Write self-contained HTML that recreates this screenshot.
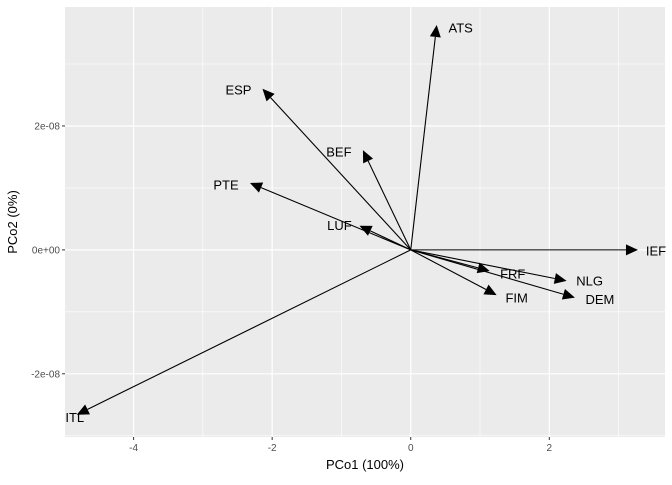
<!DOCTYPE html>
<html><head><meta charset="utf-8"><style>
body{margin:0;background:#fff;font-family:"Liberation Sans",sans-serif}
</style></head><body>
<svg id="c" width="672" height="480" xmlns="http://www.w3.org/2000/svg"></svg>
<script>
const labels=["ATS","ESP","BEF","PTE","LUF","IEF","FRF","NLG","FIM","DEM","ITL"];
const pc1=[0.375,-2.14,-0.69,-2.32,-0.74,3.28,1.14,2.25,1.24,2.37,-4.82];
const pc2=[3.63,2.6,1.61,1.08,0.39,0,-0.34,-0.5,-0.73,-0.77,-2.66];
const xTicks=[-4,-2,0,2];
const xTickLabels=["-4","-2","0","2"];
const yTicks=[2,0,-2];
const yTickLabels=["2e-08","0e+00","-2e-08"];
const labDx=[24,-24,-24,-24,-20,18,23,23,20,25,-2];
const labDy=[3,1,2,2,0,1,3,0,3,2,3];
const L=65,R=665,T=7,B=437;
const xmin=-4.99,xmax=3.67,ymin=-3.02,ymax=3.92;
const X=v=>L+(v-xmin)/(xmax-xmin)*(R-L);
const Y=v=>B-(v-ymin)/(ymax-ymin)*(B-T);
const svg=document.getElementById('c');const NS="http://www.w3.org/2000/svg";
function mk(t,a,p){const e=document.createElementNS(NS,t);for(const k in a)e.setAttribute(k,a[k]);(p||svg).appendChild(e);return e;}
const bg=mk('rect',{x:L,y:T,width:R-L,height:B-T,fill:'#ebebeb'});


for(let v=-5;v<=3;v+=2){const g=mk('line',{x1:X(v),x2:X(v),y1:T,y2:B,stroke:'#fff','stroke-width':0.6});

}
for(let v=-3;v<=3;v+=2){const g=mk('line',{x1:L,x2:R,y1:Y(v),y2:Y(v),stroke:'#fff','stroke-width':0.6});

}
xTicks.forEach((v,i)=>{const g=mk('line',{x1:X(v),x2:X(v),y1:T,y2:B,stroke:'#fff','stroke-width':1.2});


mk('line',{x1:X(v),x2:X(v),y1:B,y2:B+3,stroke:'#333'});
const t=mk('text',{x:X(v),y:B+14,'text-anchor':'middle','font-size':10,fill:'#4d4d4d'});t.textContent=xTickLabels[i];

});
yTicks.forEach((v,i)=>{const g=mk('line',{x1:L,x2:R,y1:Y(v),y2:Y(v),stroke:'#fff','stroke-width':1.2});


mk('line',{x1:L-3,x2:L,y1:Y(v),y2:Y(v),stroke:'#333'});
const t=mk('text',{x:L-5,y:Y(v)+3.5,'text-anchor':'end','font-size':10,fill:'#4d4d4d'});t.textContent=yTickLabels[i];

});
const x0=X(0),y0=Y(0);
labels.forEach((n,i)=>{const x=X(pc1[i]),y=Y(pc2[i]);
const g=mk('g',{});


const dx=x-x0,dy=y-y0,len=Math.hypot(dx,dy),ux=dx/len,uy=dy/len,h=12,w=5.5;
const bx=x-ux*h,by=y-uy*h;
mk('line',{x1:x0,y1:y0,x2:bx,y2:by,stroke:'#000','stroke-width':1.1},g);
mk('polygon',{points:`${x},${y} ${bx-uy*w},${by+ux*w} ${bx+uy*w},${by-ux*w}`,fill:'#000'},g);
const t=mk('text',{x:x+labDx[i],y:y+labDy[i]+4.5,'text-anchor':'middle','font-size':13,fill:'#000'},g);t.textContent=n;});
const xt=mk('text',{x:(L+R)/2,y:469,'text-anchor':'middle','font-size':13,fill:'#000'});xt.textContent="PCo1 (100%)";


const yt=mk('text',{x:17,y:(T+B)/2,'text-anchor':'middle','font-size':13,fill:'#000',transform:`rotate(-90 17 ${(T+B)/2})`});yt.textContent="PCo2 (0%)";


</script>
</body></html>
